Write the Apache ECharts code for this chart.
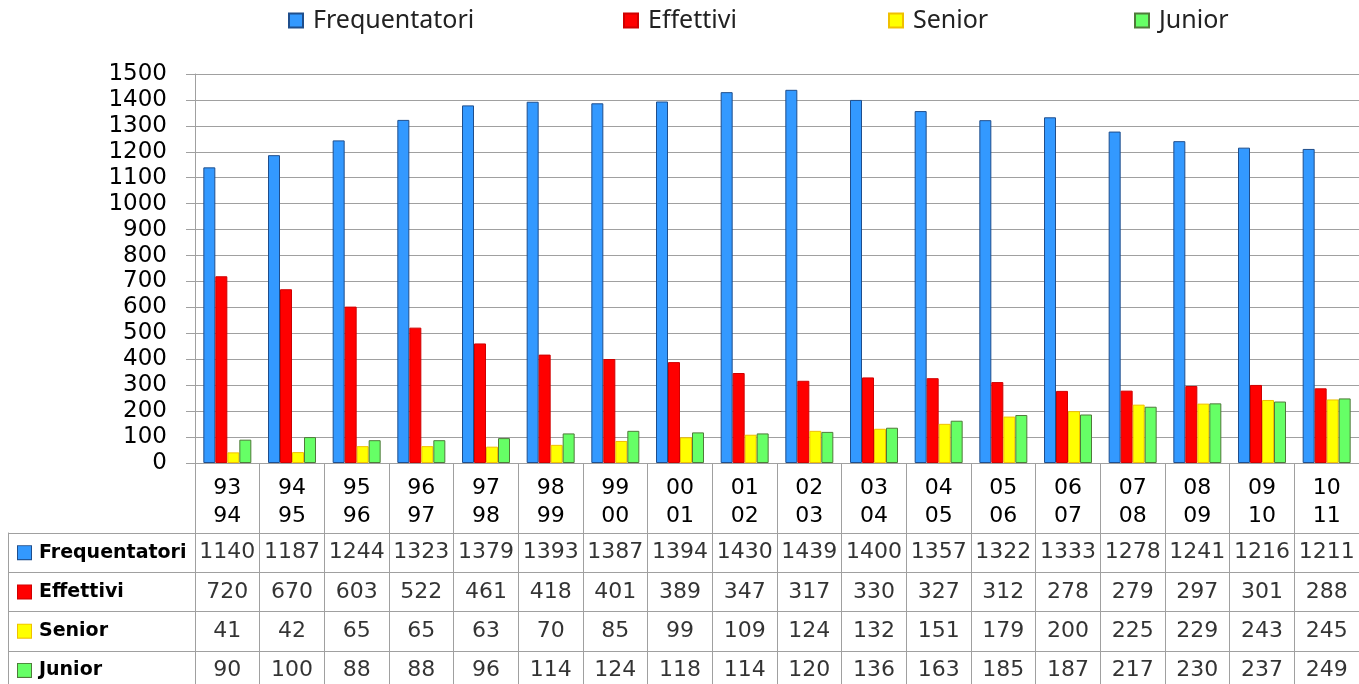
<!DOCTYPE html>
<html>
<head>
<meta charset="utf-8">
<script src="https://cdn.jsdelivr.net/npm/echarts@6/dist/echarts.min.js"></script>
<style>html,body{margin:0;padding:0;background:#fff;overflow:hidden;}#c{width:1359px;height:692px;}</style>
</head>
<body>
<div id="c"></div>
<script>
const categories = ['93\n94','94\n95','95\n96','96\n97','97\n98','98\n99','99\n00','00\n01','01\n02','02\n03','03\n04','04\n05','05\n06','06\n07','07\n08','08\n09','09\n10','10\n11'];
const seriesNames = ['Frequentatori','Effettivi','Senior','Junior'];
const frequentatori = [1140,1187,1244,1323,1379,1393,1387,1394,1430,1439,1400,1357,1322,1333,1278,1241,1216,1211];
const effettivi = [720,670,603,522,461,418,401,389,347,317,330,327,312,278,279,297,301,288];
const senior = [41,42,65,65,63,70,85,99,109,124,132,151,179,200,225,229,243,245];
const junior = [90,100,88,88,96,114,124,118,114,120,136,163,185,187,217,230,237,249];
const yTicks = {min:0, max:1500, interval:100};

const values = [frequentatori, effettivi, senior, junior];
const fills = ['#3399ff','#ff0000','#ffff00','#66ff66'];
const borders = ['#1f4e8c','#d00000','#f0c000','#4f7a3a'];
const grayLine = '#a0a0a0';
const tableFont = 'DejaVu Sans';

const chart = echarts.init(document.getElementById('c'), null, {renderer:'canvas'});

const rich = {t:{fontFamily:tableFont,fontSize:19,fontWeight:'bold',color:'#000',padding:[0,0,0,8]}};
fills.forEach((f,i)=>{ rich['m'+i] = {width:13,height:13,backgroundColor:f,borderColor:borders[i],borderWidth:1}; });

const barSeries = seriesNames.map((n,i)=>({
  name:n, type:'bar', xAxisIndex:0, yAxisIndex:0,
  data: values[i], barWidth:12, barGap:'0%',
  itemStyle:{color:fills[i], borderColor:borders[i], borderWidth:1}
}));

const tableSeries = seriesNames.map((n,i)=>({
  name:'tab_'+n, type:'scatter', xAxisIndex:1, yAxisIndex:1,
  symbolSize:1, itemStyle:{color:'rgba(0,0,0,0)'},
  data: values[i].map((v,j)=>[j, i, v]),
  encode:{x:0,y:1},
  label:{show:true, position:'inside', formatter:p=>String(p.data[2]), fontFamily:tableFont, fontSize:22, color:'#000'},
  silent:true
}));

const legendLeft = [283, 618, 883, 1129];
const option = {
  animation:false,
  backgroundColor:'#fff',
  legend: seriesNames.map((n,i)=>({
    data:[n], left:legendLeft[i], top:3, icon:'rect', itemWidth:14, itemHeight:14,
    textStyle:{fontFamily:'Noto Sans', fontSize:25, color:'#222', padding:[0,0,0,5]}, selectedMode:false
  })),
  grid:[
    {left:195, right:0, top:74, height:389},
    {left:195, right:0, top:533, height:157}
  ],
  xAxis:[
    {type:'category', gridIndex:0, data:categories,
     axisLine:{lineStyle:{color:grayLine}},
     axisTick:{show:true, interval:0, length:70, lineStyle:{color:grayLine}},
     axisLabel:{interval:0, margin:11, fontFamily:tableFont, fontSize:22, lineHeight:28, color:'#000'}},
    {type:'category', gridIndex:1, data:categories,
     axisLine:{show:false}, axisTick:{show:false}, axisLabel:{show:false},
     splitLine:{show:true, interval:0, lineStyle:{color:grayLine}}}
  ],
  yAxis:[
    {type:'value', gridIndex:0, min:yTicks.min, max:yTicks.max, interval:yTicks.interval,
     axisLine:{show:true, lineStyle:{color:grayLine}},
     axisTick:{show:true, length:9, lineStyle:{color:grayLine}},
     splitLine:{show:true, lineStyle:{color:grayLine}},
     axisLabel:{margin:28, fontFamily:tableFont, fontSize:23, color:'#000', formatter:v=>String(v)}},
    {type:'category', gridIndex:1, inverse:true, data:seriesNames,
     axisLine:{show:true, lineStyle:{color:grayLine}},
     axisTick:{show:true, interval:0, length:187, lineStyle:{color:grayLine}},
     splitLine:{show:true, interval:0, lineStyle:{color:grayLine}},
     axisLabel:{interval:0, align:'left', margin:177, rich:rich,
       formatter:(v,i)=>'{m'+i+'|}{t|'+v+'}'}},
    {type:'category', gridIndex:1, inverse:true, data:seriesNames, offset:187, position:'left',
     axisLine:{show:true, lineStyle:{color:grayLine}}, axisTick:{show:false}, axisLabel:{show:false}, splitLine:{show:false}}
  ],
  series: barSeries.concat(tableSeries)
};
chart.setOption(option);
</script>
</body>
</html>
